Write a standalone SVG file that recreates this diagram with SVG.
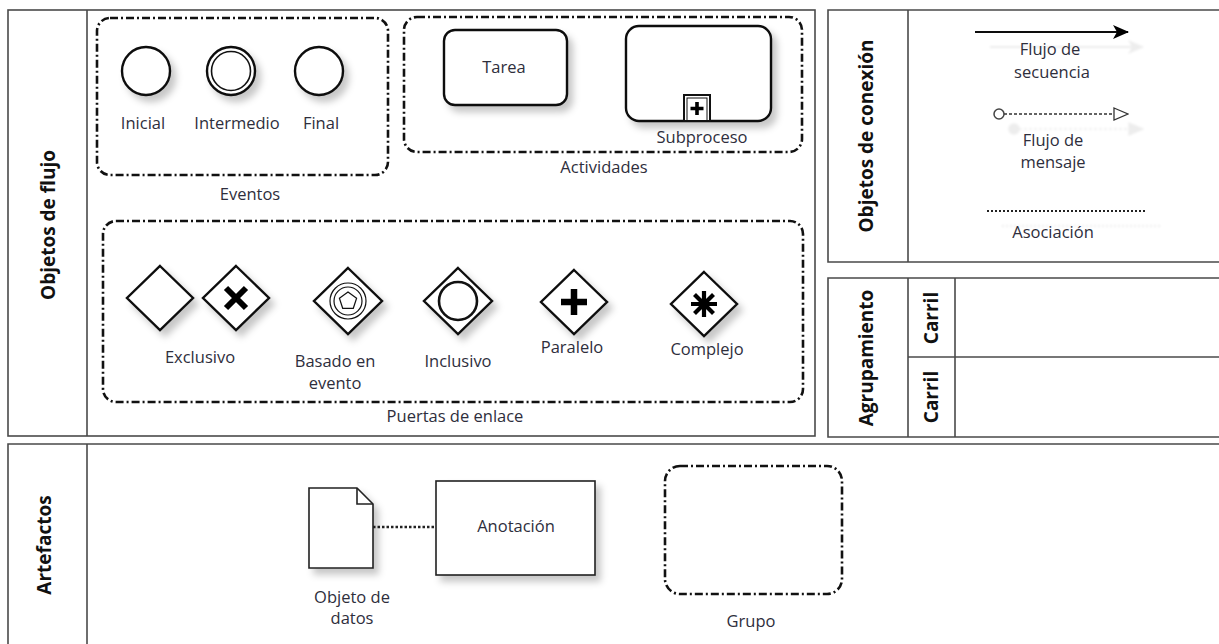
<svg xmlns="http://www.w3.org/2000/svg" width="1219" height="644" viewBox="0 0 1219 644">
  <defs>
    <filter id="sh" x="-30%" y="-30%" width="170%" height="170%">
      <feDropShadow dx="5" dy="6" stdDeviation="3.5" flood-color="#000" flood-opacity="0.22"/>
    </filter>
    <filter id="ghost" filterUnits="userSpaceOnUse" x="900" y="0" width="319" height="262">
      <feDropShadow dx="15" dy="15" stdDeviation="1" flood-color="#000" flood-opacity="0.07"/>
    </filter>
    <marker id="arrFill" markerWidth="16" markerHeight="14" refX="15" refY="7" orient="auto" markerUnits="userSpaceOnUse">
      <path d="M0,0 L16,7 L0,14 L4,7 Z" fill="#000"/>
    </marker>
    <marker id="arrOpen" markerWidth="16" markerHeight="14" refX="15" refY="7" orient="auto" markerUnits="userSpaceOnUse">
      <path d="M1,1 L15,7 L1,13 Z" fill="#fff" stroke="#333" stroke-width="1.3"/>
    </marker>
    <marker id="circStart" markerWidth="14" markerHeight="14" refX="2" refY="7" orient="auto" markerUnits="userSpaceOnUse">
      <circle cx="7" cy="7" r="5" fill="#fff" stroke="#444" stroke-width="1.5"/>
    </marker>
  </defs>
  <style>
    .frame { fill: none; stroke: #4a4a4a; stroke-width: 1.6; }
    .grp { fill: none; stroke: #111; stroke-width: 2.6; stroke-dasharray: 8 3 2 3; }
    .shape { fill: #fff; stroke: #111; stroke-width: 2.4; }
    .lbl { font-family: "Open Sans", "Noto Sans", sans-serif; font-size: 16.5px; fill: #2e2e3c; text-anchor: middle; }
    .ttl { font-family: "Open Sans", "Noto Sans", sans-serif; font-size: 19px; font-weight: bold; fill: #111; text-anchor: middle; }
    .mark { stroke: #000; fill: none; stroke-linecap: butt; }
  </style>
  <rect width="1219" height="644" fill="#fff"/>

  <!-- Frames -->
  <g id="frame-flujo">
    <rect class="frame" x="8" y="10" width="807" height="426"/>
    <line class="frame" x1="87" y1="10" x2="87" y2="436"/>
    <text class="ttl" transform="translate(55,225) rotate(-90)">Objetos de flujo</text>
  </g>
  <g id="frame-conexion">
    <path class="frame" d="M1219,10 H828 V262 H1219"/>
    <line class="frame" x1="908" y1="10" x2="908" y2="262"/>
    <text class="ttl" transform="translate(873,136) rotate(-90)">Objetos de conexión</text>
  </g>
  <g id="frame-agrupamiento">
    <path class="frame" d="M1219,278 H828 V437 H1219"/>
    <line class="frame" x1="908" y1="278" x2="908" y2="437"/>
    <line class="frame" x1="955" y1="278" x2="955" y2="437"/>
    <line class="frame" x1="908" y1="357" x2="1219" y2="357"/>
    <text class="ttl" transform="translate(873,358) rotate(-90)">Agrupamiento</text>
    <text class="ttl" transform="translate(938,318) rotate(-90)">Carril</text>
    <text class="ttl" transform="translate(938,397) rotate(-90)">Carril</text>
  </g>
  <g id="frame-artefactos">
    <path class="frame" d="M1219,444 H8 V644"/>
    <line class="frame" x1="87" y1="444" x2="87" y2="644"/>
    <text class="ttl" transform="translate(51,545) rotate(-90)">Artefactos</text>
  </g>

  <!-- Eventos -->
  <g id="eventos">
    <rect class="grp" x="97" y="18" width="291" height="157" rx="13"/>
    <text class="lbl" x="250" y="200">Eventos</text>
  </g>
  <g id="ev-inicial">
    <circle class="shape" cx="146" cy="71" r="24" stroke-width="2.2" filter="url(#sh)"/>
    <text class="lbl" x="143" y="129">Inicial</text>
  </g>
  <g id="ev-intermedio">
    <circle class="shape" cx="231" cy="71" r="24" stroke-width="2.4" filter="url(#sh)"/>
    <circle cx="231" cy="71" r="19.5" fill="none" stroke="#111" stroke-width="1.6"/>
    <text class="lbl" x="237" y="129">Intermedio</text>
  </g>
  <g id="ev-final">
    <circle class="shape" cx="319" cy="71" r="24" stroke-width="3.6" filter="url(#sh)"/>
    <text class="lbl" x="321" y="129">Final</text>
  </g>

  <!-- Actividades -->
  <g id="actividades">
    <rect class="grp" x="404" y="17" width="398" height="135" rx="13"/>
    <text class="lbl" x="604" y="173">Actividades</text>
  </g>
  <g id="tarea">
    <rect class="shape" x="444" y="30" width="123" height="75" rx="11" filter="url(#sh)"/>
    <text class="lbl" x="504" y="73">Tarea</text>
  </g>
  <g id="subproceso">
    <rect class="shape" x="626" y="26" width="145" height="95" rx="13" filter="url(#sh)"/>
    <rect x="684" y="95" width="26" height="26" fill="#fff" stroke="#111" stroke-width="2"/>
    <rect x="687" y="98" width="20" height="23" fill="none" stroke="#111" stroke-width="1"/>
    <path class="mark" d="M697,102 V115 M690.5,108.5 H703.5" stroke-width="3.6"/>
    <text class="lbl" x="702" y="143">Subproceso</text>
  </g>

  <!-- Puertas de enlace -->
  <g id="puertas">
    <rect class="grp" x="103" y="221" width="700" height="181" rx="13"/>
    <text class="lbl" x="455" y="422">Puertas de enlace</text>
  </g>
  <g id="gw-exclusivo">
    <path class="shape" d="M160,266 L193,298 L160,330 L127,298 Z" filter="url(#sh)"/>
    <path class="shape" d="M236,266 L269,298 L236,330 L203,298 Z" filter="url(#sh)"/>
    <path class="mark" d="M226,288 L246,308 M246,288 L226,308" stroke-width="6"/>
    <text class="lbl" x="200" y="363">Exclusivo</text>
  </g>
  <g id="gw-evento">
    <path class="shape" d="M348,268 L382,301 L348,334 L314,301 Z" filter="url(#sh)"/>
    <circle cx="348" cy="301" r="18" fill="none" stroke="#111" stroke-width="1.2"/>
    <circle cx="348" cy="301" r="14" fill="none" stroke="#111" stroke-width="1.2"/>
    <path d="M348,292 L356.6,298.2 L353.3,308.3 L342.7,308.3 L339.4,298.2 Z" fill="none" stroke="#111" stroke-width="1.2"/>
    <text class="lbl" x="335" y="367">Basado en</text>
    <text class="lbl" x="335" y="389">evento</text>
  </g>
  <g id="gw-inclusivo">
    <path class="shape" d="M458,268 L492,301 L458,334 L424,301 Z" filter="url(#sh)"/>
    <circle cx="458" cy="301" r="19" fill="none" stroke="#111" stroke-width="2.6"/>
    <text class="lbl" x="458" y="367">Inclusivo</text>
  </g>
  <g id="gw-paralelo">
    <path class="shape" d="M574,270 L607,302 L574,334 L541,302 Z" filter="url(#sh)"/>
    <path class="mark" d="M574,289 V315 M561,302 H587" stroke-width="6.5"/>
    <text class="lbl" x="572" y="353">Paralelo</text>
  </g>
  <g id="gw-complejo">
    <path class="shape" d="M704,272 L737,304 L704,336 L671,304 Z" filter="url(#sh)"/>
    <path class="mark" d="M704,291 V317 M691,304 H717 M694.5,294.5 L713.5,313.5 M713.5,294.5 L694.5,313.5" stroke-width="4.2"/>
    <text class="lbl" x="707" y="355">Complejo</text>
  </g>

  <!-- Connecting objects legend -->
  <g id="connectors">
    <line x1="975" y1="32" x2="1128" y2="32" stroke="#111" stroke-width="2" marker-end="url(#arrFill)" filter="url(#ghost)"/>
    <line x1="994" y1="114" x2="1128" y2="114" stroke="#333" stroke-width="1.3" stroke-dasharray="3 2" marker-start="url(#circStart)" marker-end="url(#arrOpen)" filter="url(#ghost)"/>
    <line x1="987" y1="211" x2="1147" y2="211" stroke="#222" stroke-width="2" stroke-dasharray="2 2" filter="url(#ghost)"/>
    <line x1="373" y1="527" x2="434" y2="527" stroke="#222" stroke-width="2.5" stroke-dasharray="2.5 2"/>
  </g>
  <g id="conn-labels">
    <text class="lbl" x="1050" y="55">Flujo de</text>
    <text class="lbl" x="1052" y="78">secuencia</text>
    <text class="lbl" x="1053" y="146">Flujo de</text>
    <text class="lbl" x="1053" y="168">mensaje</text>
    <text class="lbl" x="1053" y="238">Asociación</text>
  </g>

  <!-- Artefactos -->
  <g id="objeto-datos">
    <path d="M309,488 H357 L373,504 V568 H309 Z" fill="#fff" stroke="#222" stroke-width="1.6" filter="url(#sh)"/>
    <path d="M357,488 V504 H373" fill="none" stroke="#222" stroke-width="1.6"/>
    <text class="lbl" x="352" y="603">Objeto de</text>
    <text class="lbl" x="352" y="624">datos</text>
  </g>
  <g id="anotacion">
    <rect x="436" y="481" width="159" height="94" fill="#fff" stroke="#222" stroke-width="1.6" filter="url(#sh)"/>
    <text class="lbl" x="516" y="532">Anotación</text>
  </g>
  <g id="grupo">
    <rect class="grp" x="665" y="466" width="177" height="128" rx="15"/>
    <text class="lbl" x="751" y="627">Grupo</text>
  </g>
</svg>
